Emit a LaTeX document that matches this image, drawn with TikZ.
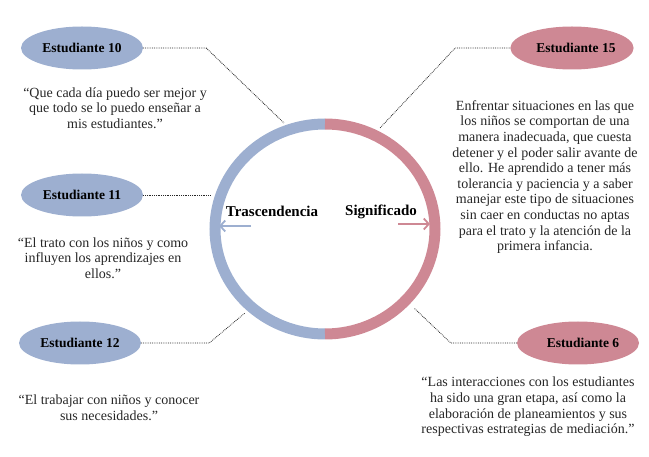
\documentclass[tikz,border=0pt]{standalone}
\usepackage{fontspec}
\setmainfont{Liberation Serif}
\usetikzlibrary{arrows.meta,shapes.geometric}
\definecolor{blu}{HTML}{9DAFD0}
\definecolor{pnk}{HTML}{CE8894}
\tikzset{
 stud/.style={ellipse,minimum width=122pt,minimum height=43pt,inner sep=0pt,font=\fontsize{13.5}{15}\selectfont\bfseries},
 quote/.style={align=center,font=\fontsize{14}{15.6}\selectfont,text=black!85},
 conn/.style={densely dotted,line width=0.8pt,black!85},
 ar/.style={line width=2.4pt,-{Straight Barb[length=5pt,width=11pt,line width=1.8pt]}}
}
\begin{document}
\begin{tikzpicture}[x=1pt,y=-1pt]
\useasboundingbox (0,0) rectangle (649,457);
% ring
\draw[blu,line width=11pt] (325,124) arc[start angle=-90,end angle=-270,x radius=110,y radius=105];
\draw[pnk,line width=11pt] (325,124) arc[start angle=-90,end angle=90,x radius=110,y radius=105];
\coordinate (c10) at (284,123);
\coordinate (c11) at (210,195);
\coordinate (c12) at (245,313);
\coordinate (c15) at (380,128);
\coordinate (c6) at (414,308);
% nodes
\node[stud,fill=blu] (e10) at (82,48) {Estudiante 10};
\node[stud,fill=blu] (e11) at (82,195) {Estudiante 11};
\node[stud,fill=blu] (e12) at (80,343) {Estudiante 12};
\node[stud,fill=pnk] (e15) at (572,48) {\hspace*{8pt}Estudiante 15};
\node[stud,fill=pnk] (e6) at (578,343) {\hspace*{10pt}Estudiante 6};
% connectors
\draw[conn] (e10.east) -- ++(63,0) -- (c10);
\draw[conn] (e11.east) -- (c11);
\draw[conn] (e12.east) -- ++(68,0) -- (c12);
\draw[conn] (e15.west) -- ++(-55,0) -- (c15);
\draw[conn] (e6.west) -- ++(-66,0) -- (c6);
% quotes
\node[quote] (q10) at (115,108) {“Que cada día puedo ser mejor y\\que todo se lo puedo enseñar a\\mis estudiantes.”};
\node[quote] (q11) at (103,258) {“El trato con los niños y como\\influyen los aprendizajes en\\ellos.”};
\node[quote] (q12) at (109,408) {“El trabajar con niños y conocer\\sus necesidades.”};
\node[quote] (q15) at (545,177) {Enfrentar situaciones en las que\\los niños se comportan de una\\manera inadecuada, que cuesta\\detener y el poder salir avante de\\ello. He aprendido a tener más\\tolerancia y paciencia y a saber\\manejar este tipo de situaciones\\sin caer en conductas no aptas\\para el trato y la atención de la\\primera infancia.};
\node[quote] (q6) at (528,407) {“Las interacciones con los estudiantes\\ha sido una gran etapa, así como la\\elaboración de planeamientos y sus\\respectivas estrategias de mediación.”};
% labels
\node[font=\fontsize{15}{17}\selectfont\bfseries] (tr) at (272,211) {Trascendencia};
\node[font=\fontsize{15}{17}\selectfont\bfseries] (si) at (381,212) {Significado};
\coordinate (tra) at (251,226); \coordinate (trb) at (219,226);
\coordinate (sia) at (398,224); \coordinate (sib) at (430,224);
\draw[ar,blu] (tra) -- (trb);
\draw[ar,pnk] (sia) -- (sib);
\end{tikzpicture}
\end{document}
